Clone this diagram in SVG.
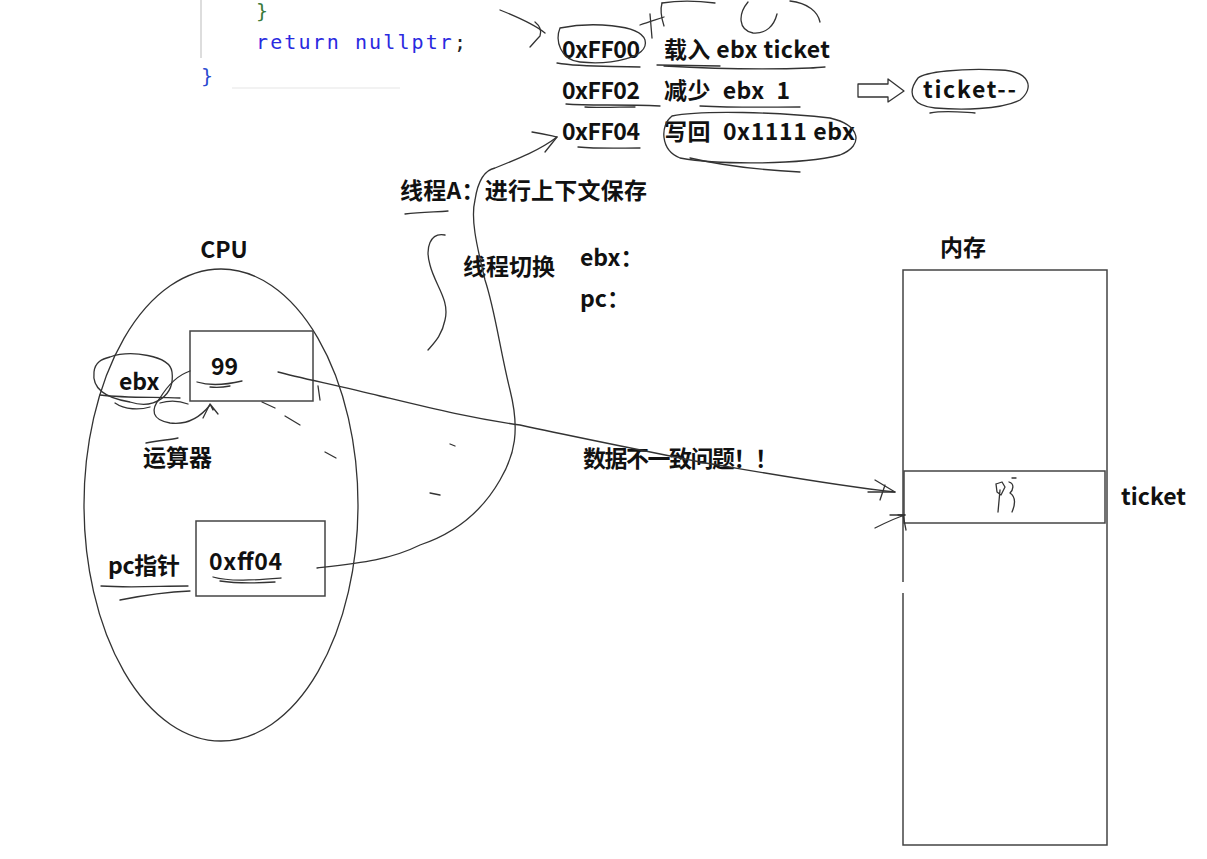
<svg xmlns="http://www.w3.org/2000/svg" width="1207" height="859" viewBox="0 0 1207 859">
<style>
.t{font-family:"Noto Sans CJK SC","Noto Sans",sans-serif;font-weight:bold;fill:#111;font-size:23px;}
.s{fill:none;stroke:#333;stroke-width:1.3;stroke-linecap:round;stroke-linejoin:round;}
.b{fill:none;stroke:#444;stroke-width:1.5;}
.code{font-family:"DejaVu Sans Mono","Liberation Mono",monospace;font-size:20px;}
</style>
<rect width="1207" height="859" fill="#fff"/>

<g id="code">
<line x1="201" y1="0" x2="201" y2="58" stroke="#ddd" stroke-width="2"/>
<line x1="232" y1="88" x2="400" y2="88" stroke="#f2f2f2" stroke-width="2"/>
<text x="256" y="18" class="code" fill="#3a7a3a">}</text>
<text x="256" y="49" class="code" fill="#2a2ae0" textLength="210">return nullptr<tspan fill="#222">;</tspan></text>
<text x="201" y="83" class="code" fill="#2a4ad0">}</text>
</g>

<g id="instructions">
<text x="562" y="58" class="t" textLength="78">0xFF00</text>
<text x="664" y="58" class="t" textLength="166">载入 ebx ticket</text>
<text x="562" y="99" class="t" textLength="78">0xFF02</text>
<text x="664" y="99" class="t" xml:space="preserve" textLength="126">减少  ebx  1</text>
<text x="562" y="140" class="t" textLength="78">0xFF04</text>
<text x="664" y="140" class="t" xml:space="preserve" textLength="191">写回  0x1111 ebx</text>
</g>

<g id="ticket-dec">
<text x="923" y="98" class="t" textLength="93">ticket--</text>
<path class="s" d="M858 84 L888 84 L888 79 L904 91 L888 102 L888 97 L858 97 Z"/>
<path class="s" d="M918 78 C925 72 960 68 1000 70 C1030 71 1035 88 1020 100 C1000 110 960 110 935 108 C915 106 905 95 918 78"/>
<path class="s" d="M930 113 C945 110 960 112 975 113"/>
</g>

<g id="labels">
<text x="400" y="199" class="t" textLength="247">线程A：进行上下文保存</text>
<text x="463" y="275" class="t" textLength="92">线程切换</text>
<text x="580" y="266" class="t">ebx：</text>
<text x="580" y="307" class="t">pc：</text>
<text x="583" y="467" class="t" textLength="195">数据不一致问题！！</text>
</g>

<g id="cpu">
<text x="224" y="258" class="t" text-anchor="middle">CPU</text>
<ellipse cx="221" cy="505" rx="137" ry="236" class="s"/>
<rect x="190" y="331" width="123" height="70" class="b"/>
<text x="211" y="375" class="t">99</text>
<text x="119" y="390" class="t">ebx</text>
<text x="143" y="466" class="t">运算器</text>
<rect x="196" y="521" width="129" height="75" class="b"/>
<text x="209" y="570" class="t" textLength="73">0xff04</text>
<text x="108" y="574" class="t" textLength="72">pc指针</text>
</g>

<g id="memory">
<text x="940" y="256" class="t">内存</text>
<path class="b" d="M903 582 L903 270 L1107 270 L1107 845 L903 845 L903 593"/>
<rect x="904" y="471" width="201" height="52" class="b" stroke="#666"/>
<text x="1121" y="505" class="t" textLength="65">ticket</text>
<path class="s" d="M996 484 L1002 482 L1005 487 L1001 495 L997 492 L996 484 M1000 490 L998 512 M1009 482 C1015 484 1013 490 1010 493 C1016 497 1015 505 1012 512"/>
<path class="s" d="M1012 478 L1016 478"/>
</g>

<g id="scribbles">
<path class="s" d="M110 357 C130 350 170 355 172 372 C175 395 155 410 130 402 C105 398 92 388 94 372 C95 362 102 359 110 357"/>
<path class="s" d="M100 395 C125 398 150 397 180 398"/>
<path class="s" d="M115 403 C125 410 140 410 150 407"/>
<path class="s" d="M190 371 C178 375 168 385 160 398 C150 410 152 420 170 423 C185 425 198 420 210 405"/>
<path class="s" d="M203 418 L210 404 L218 414 M210 404 L213 410"/>
<path class="s" d="M160 403 C170 400 180 401 188 404"/>
<path class="s" d="M197 382 C210 386 225 385 242 381"/>
<path class="s" d="M210 387 C218 388 225 387 230 386"/>
<path class="s" d="M146 443 C160 440 170 440 178 438"/>
<path class="s" d="M213 577 C230 582 255 580 281 578"/>
<path class="s" d="M220 581 C240 584 260 583 275 582"/>
<path class="s" d="M101 586 C130 588 160 586 188 586"/>
<path class="s" d="M120 600 C140 596 165 592 190 591"/>
<path class="s" d="M262 402 L275 408 M285 416 L300 425 M325 452 L336 458"/>
<path class="s" d="M318 386 L320 400"/>
<path class="s" d="M430 493 L440 495 M450 444 L455 446"/>
<path class="s" d="M560 28 C590 22 640 24 645 40 C650 58 610 65 580 62 C560 60 555 40 560 28"/>
<path class="s" d="M557 63 C580 67 600 66 640 67"/>
<path class="s" d="M664 66 C700 68 760 70 810 68 C815 68 820 67 825 67"/>
<path class="s" d="M657 65 L720 66"/>
<path class="s" d="M566 104 C590 106 620 104 660 106"/>
<path class="s" d="M585 107 C600 108 620 107 635 107"/>
<path class="s" d="M700 106 C740 108 770 107 800 107"/>
<path class="s" d="M578 147 C600 149 620 148 640 148"/>
<path class="s" d="M672 116 C700 110 780 112 830 118 C860 125 865 145 840 155 C800 165 720 165 680 158 C660 150 660 125 672 116"/>
<path class="s" d="M690 158 C720 165 760 170 800 172"/>
<path class="s" d="M500 10 C520 18 535 25 545 33"/>
<path class="s" d="M535 22 C540 26 542 30 540 36 C536 40 533 44 530 47"/>
<path class="s" d="M640 25 C648 22 655 20 664 17"/>
<path class="s" d="M650 14 L652 38"/>
<path class="s" d="M662 3 C660 10 662 20 664 26"/>
<path class="s" d="M662 3 C680 0 700 1 715 3"/>
<path class="s" d="M748 2 C738 14 738 30 753 33 C766 34 774 26 777 14"/>
<path class="s" d="M790 1 C808 3 818 12 820 22"/>
<path class="s" d="M405 214 C420 212 435 212 448 211"/>
<path class="s" d="M445 235 C430 232 425 248 430 265 C435 285 450 300 445 320 C442 335 435 342 428 350"/>
<path class="s" d="M317 568 C360 563 390 560 420 545 C450 535 480 515 500 480 C515 455 520 430 510 390 C500 350 495 310 485 280 C478 250 470 220 475 200 C478 180 485 170 495 168 C520 158 540 150 557 137"/>
<path class="s" d="M532 132 C545 134 552 136 557 137 L545 152"/>
<path class="s" d="M278 372 C300 378 340 386 380 396 C430 408 470 418 520 425 C580 438 640 450 700 462 C760 472 830 485 895 492"/>
<path class="s" d="M868 492 L895 492 L875 480 M880 500 L885 485"/>
<path class="s" d="M875 528 C885 523 895 518 905 515 L898 515 M903 515 L906 530"/>
<path class="s" d="M890 515 L905 515"/>
</g>
</svg>
